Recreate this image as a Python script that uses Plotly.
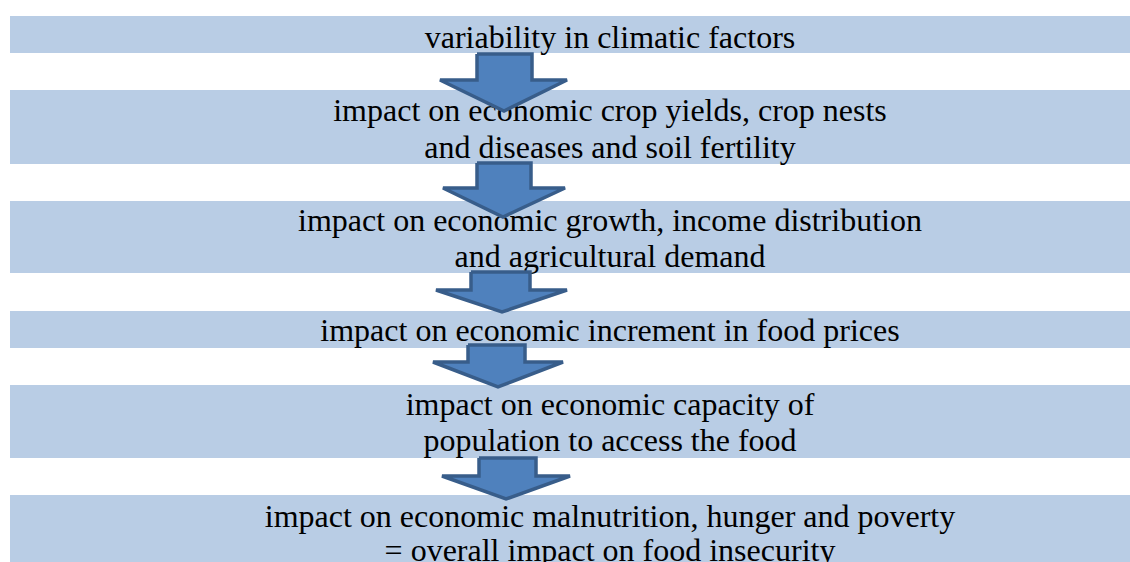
import plotly.graph_objects as go

# --- content ---
box_lines = [
    ["variability in climatic factors"],
    ["impact on economic crop yields, crop nests", "and diseases and soil fertility"],
    ["impact on economic growth, income distribution", "and agricultural demand"],
    ["impact on economic increment in food prices"],
    ["impact on economic capacity of", "population to access the food"],
    ["impact on economic malnutrition, hunger and poverty", "= overall impact on food insecurity"],
]

# --- layout geometry (pixels, y downward) ---
box_top = [16, 90, 201, 311, 385, 495]
box_bot = [53, 164, 273, 348, 458, 600]
box_left = 10
box_right = 1210
text_x = 610
line_y = [[39.5], [112.5, 149.5], [222.5, 258.5], [332.5], [406.5, 442.5], [518.5, 553]]

# arrows: shaft left, shaft right, shaft top, head base y, head left, head right, tip x, tip y
arrows = [
    [477, 532, 54, 80, 440, 567, 504, 111],
    [477, 531, 163, 188, 443, 565, 503, 217],
    [471, 530, 272, 290, 436, 567, 502, 312],
    [468, 525, 345, 362, 433, 563, 498, 387],
    [479, 536, 458, 476, 442, 570, 506, 499],
]

BOX_COLOR = "#B9CDE5"
ARROW_FILL = "#4F81BD"
ARROW_LINE = "#385D8A"

fig = go.Figure()

shapes = []
for t, b in zip(box_top, box_bot):
    shapes.append(dict(type="rect", xref="x", yref="y", x0=box_left, x1=box_right,
                       y0=t, y1=b, fillcolor=BOX_COLOR, line=dict(width=0), layer="below"))

tx, ty, tt = [], [], []
for lines, ys in zip(box_lines, line_y):
    for s, y in zip(lines, ys):
        tx.append(text_x)
        ty.append(y)
        tt.append(s)

fig.add_trace(go.Scatter(x=tx, y=ty, text=tt, mode="text", textposition="middle center",
                         textfont=dict(family="Liberation Serif, Times New Roman, serif",
                                       size=32, color="#000000"),
                         hoverinfo="skip", showlegend=False))

for sl, sr, top, hb, hl, hr, tipx, tipy in arrows:
    xs = [sl, sl, hl, tipx, hr, sr, sr, sl]
    ys = [top, hb, hb, tipy, hb, hb, top, top]
    fig.add_trace(go.Scatter(x=xs, y=ys, mode="lines", fill="toself", fillcolor=ARROW_FILL,
                             line=dict(color=ARROW_LINE, width=3.5), hoverinfo="skip",
                             showlegend=False))

fig.update_layout(
    width=1130, height=562,
    margin=dict(l=0, r=0, t=0, b=0),
    paper_bgcolor="white", plot_bgcolor="white",
    shapes=shapes,
    xaxis=dict(range=[0, 1130], visible=False, fixedrange=True),
    yaxis=dict(range=[562, 0], visible=False, fixedrange=True),
)

fig.write_html("out.html",
               config={"displayModeBar": False, "staticPlot": True},
               post_script="document.body.style.margin='0';document.body.style.overflow='hidden';")
